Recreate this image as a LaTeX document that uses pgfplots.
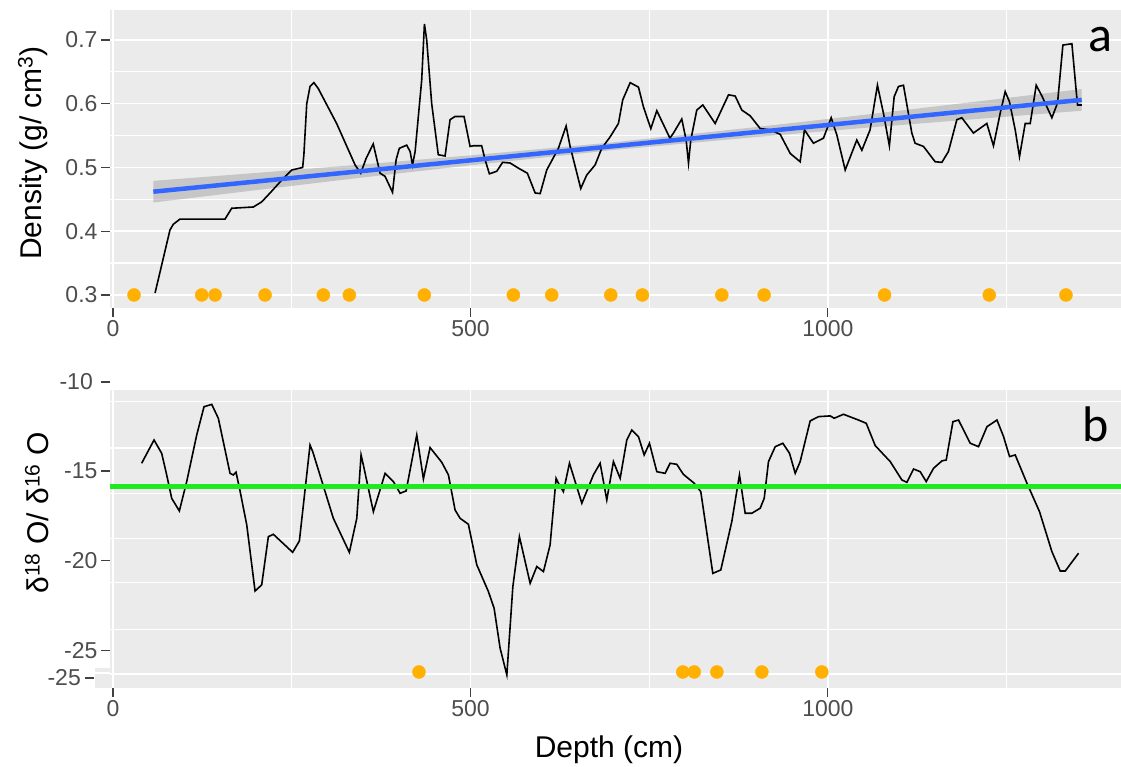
\documentclass[border=0pt]{standalone}
\usepackage{fontspec}
\setmainfont{Liberation Sans}
\newfontfamily\calfont{Carlito}
\usepackage{pgfplots}
\pgfplotsset{compat=1.18}
\definecolor{panel}{HTML}{EBEBEB}
\definecolor{tickgray}{HTML}{4D4D4D}
\definecolor{fitblue}{HTML}{3366FF}
\definecolor{dotorange}{HTML}{FFB000}
\definecolor{hgreen}{HTML}{1EEB1E}
\definecolor{bandgray}{HTML}{999999}
\pgfplotsset{gg/.style={
  scale only axis, width=1011pt, height=298pt, anchor=south west,
  axis background/.style={fill=panel},
  axis line style={draw=none},
  tick align=outside, major tick length=9pt, minor tick length=0pt,
  tick style={draw=black!75, line width=1.1pt},
  tick pos=left,
  xmin=-4.2, xmax=1410, xtick={0,500,1000}, xticklabels={0,500,1000},
  minor xtick={250,750,1250},
  grid=both,
  major grid style={white, line width=1.5pt},
  minor grid style={white, line width=1.3pt},
  ticklabel style={font=\fontsize{23}{23}\selectfont, text=tickgray},
}}
\begin{document}
\begin{tikzpicture}
\useasboundingbox (0,0) rectangle (1121pt,767pt);
% ---------- panel a ----------
\begin{axis}[gg, at={(110pt,459pt)},
  ymin=0.2796, ymax=0.747,
  ytick={0.3,0.4,0.5,0.6,0.7}, yticklabels={0.3,0.4,0.5,0.6,0.7},
  minor ytick={0.35,0.45,0.55,0.65}]
\addplot[fill=bandgray, fill opacity=0.45, draw=none] coordinates {
(56.4,0.479) (200,0.4914) (350,0.5048) (500,0.519) (700,0.5394) (900,0.5634) (1050,0.5824) (1200,0.6023) (1355,0.623)
(1355,0.589) (1200,0.5753) (1050,0.562) (900,0.5478) (700,0.5274) (500,0.5034) (350,0.4844) (200,0.4644) (56.4,0.445)
} -- cycle;
\addplot[black, line width=1.6pt] coordinates {
(58.8,0.303) (79.7,0.402) (84.4,0.411) (93.7,0.419) (156.7,0.419) (166,0.436) (196.3,0.438) (208,0.446)
(219.7,0.460) (238.3,0.483) (250,0.496) (265.3,0.500) (267,0.520) (271,0.600) (275.6,0.627) (281,0.633)
(287,0.624) (312.8,0.569) (338.6,0.504) (346.5,0.491) (354,0.514) (364,0.537) (373.6,0.491) (380.6,0.486)
(391,0.461) (396,0.512) (400.5,0.530) (410.8,0.535) (415.6,0.525) (419,0.504) (422.6,0.525) (431.8,0.637)
(435.6,0.725) (438.8,0.700) (445.8,0.600) (455,0.520) (464.5,0.518) (471.5,0.575) (478.5,0.580) (491,0.580)
(499.5,0.533) (504,0.534) (515.7,0.534) (520.5,0.512) (526.5,0.490) (536.7,0.494) (545,0.508) (555.5,0.507)
(567,0.499) (579.6,0.491) (590.5,0.460) (597.5,0.459) (606.7,0.496) (623,0.530) (633.8,0.565) (639.4,0.533)
(654.3,0.467) (662.6,0.488) (674.4,0.504) (683.6,0.530) (695.4,0.548) (707,0.569) (713,0.606) (723.4,0.633)
(735,0.626) (742,0.595) (752.3,0.561) (760.7,0.589) (779,0.546) (784,0.554) (795.6,0.576) (801.7,0.543)
(805,0.507) (808.2,0.543) (816.6,0.590) (825,0.598) (842.3,0.569) (861,0.614) (870.3,0.612) (879.6,0.590)
(891.3,0.581) (905.3,0.561) (919.3,0.559) (933.2,0.552) (947.3,0.522) (961.2,0.509) (967.2,0.559) (979.8,0.538)
(993.8,0.546) (1004.6,0.578) (1012.5,0.551) (1024.2,0.496) (1040.4,0.543) (1047.5,0.527) (1059,0.559) (1069.3,0.629)
(1077.7,0.585) (1086,0.534) (1092.7,0.611) (1098.7,0.627) (1105.7,0.629) (1117.4,0.554) (1122,0.538) (1133.7,0.533)
(1150,0.509) (1159.4,0.508) (1168.6,0.525) (1180.4,0.575) (1187.3,0.578) (1203.6,0.554) (1222.3,0.569) (1231.6,0.534)
(1241,0.585) (1248,0.619) (1254,0.603) (1262,0.559) (1268,0.517) (1276,0.569) (1283,0.569) (1291.4,0.629)
(1299.4,0.612) (1313.3,0.578) (1321.2,0.601) (1328.7,0.692) (1341.3,0.694) (1347.4,0.619) (1349.2,0.598) (1355.3,0.598)
};
\addplot[fitblue, line width=4.5pt] coordinates {(56.4,0.462) (1355,0.606)};
\addplot[color=dotorange, only marks, mark=*, mark size=6.5pt, mark options={draw=dotorange, fill=dotorange}] coordinates {
(29.4,0.3) (124.1,0.3) (142.8,0.3) (212.7,0.3) (294.2,0.3) (330.6,0.3) (435.5,0.3) (560,0.3)
(613.7,0.3) (696.3,0.3) (740.5,0.3) (851.6,0.3) (910.8,0.3) (1079.2,0.3) (1225.7,0.3) (1333,0.3)
};
\end{axis}
% ---------- panel b ----------
\begin{axis}[gg, at={(110pt,79pt)},
  ymin=-27.06, ymax=-10.5,
  ytick={-25,-20,-15}, yticklabels={-25,-20,-15},
  ymajorgrids=false,
  minor ytick={-11.15,-13.72,-16.25,-18.74,-21.18,-23.8,-26.28}]
\addplot[black, line width=1.6pt] coordinates {
(40.1,-14.57) (57.4,-13.28) (68.1,-14.02) (75.1,-15.22) (82.1,-16.52) (92.8,-17.22) (103.1,-15.59) (117.1,-13.0)
(127.3,-11.43) (138.1,-11.3) (147.3,-12.07) (163.7,-15.13) (168.3,-15.22) (172.1,-15.07) (177.7,-16.11) (187.1,-18.0)
(198.7,-21.67) (208,-21.33) (217.3,-18.65) (224.3,-18.52) (251.3,-19.52) (260.7,-18.89) (275.6,-13.56) (279.4,-13.93)
(308.2,-17.63) (330.6,-19.52) (341,-17.63) (347,-14.11) (350.2,-14.67) (364.2,-17.26) (380.6,-15.13) (392.2,-15.59)
(401.6,-16.24) (410,-16.11) (424.9,-13.0) (434.2,-15.44) (443.5,-13.7) (459.9,-14.52) (469.2,-15.22) (478.5,-17.17)
(485.5,-17.63) (497.1,-17.96) (508.9,-20.22) (525.1,-21.7) (533.1,-22.63) (541.5,-24.85) (550.9,-26.33) (559.3,-21.43)
(568.5,-18.65) (583.5,-21.24) (592.8,-20.31) (602.1,-20.59) (611.4,-19.11) (619.8,-15.41) (623,-15.68) (630,-16.15)
(638.5,-14.57) (655.8,-16.79) (672,-15.22) (681.4,-14.57) (690.7,-16.61) (700,-14.48) (709.4,-15.41) (718.7,-13.28)
(725.7,-12.72) (735,-13.09) (743,-14.11) (750.4,-13.46) (760.7,-15.04) (772.3,-15.13) (779.3,-14.57) (788.6,-14.63)
(797.9,-15.19) (812.9,-15.68) (822.2,-16.15) (839,-20.69) (850.2,-20.5) (865.6,-17.81) (876.3,-15.22) (884.3,-17.35)
(893.6,-17.35) (905.3,-17.07) (910.9,-16.52) (916.9,-14.48) (926.3,-13.65) (937,-13.46) (946.3,-14.02) (954.3,-15.13)
(961.2,-14.48) (975.2,-12.22) (986.9,-11.98) (1003.2,-11.94) (1008.8,-12.07) (1021.8,-11.85) (1042.8,-12.17) (1053.6,-12.35)
(1066.2,-13.59) (1087.2,-14.48) (1103.5,-15.5) (1110.5,-15.63) (1119.8,-14.89) (1129.1,-15.04) (1137.5,-15.59) (1147.8,-14.85)
(1159.5,-14.44) (1165.5,-14.39) (1174.9,-12.26) (1182.7,-12.17) (1199.1,-13.46) (1210.7,-13.65) (1222.5,-12.54) (1236.5,-12.17)
(1245.7,-13.09) (1254.1,-14.2) (1262,-14.11) (1278.4,-15.68) (1296,-17.26) (1313.3,-19.48) (1325,-20.56) (1332,-20.56)
(1350.6,-19.57)
};
\addplot[hgreen, line width=5pt] coordinates {(-4.2,-15.87) (1410,-15.87)};
\addplot[color=dotorange, only marks, mark=*, mark size=6.5pt, mark options={draw=dotorange, fill=dotorange}] coordinates {
(428,-26.17) (797,-26.17) (813,-26.17) (844.7,-26.17) (907.6,-26.17) (991.5,-26.17)
};
\end{axis}
% extra pieces of the pasted panel b
\fill[panel] (95pt,79pt) rectangle (110pt,99pt);
\draw[white, line width=1.3pt] (95pt,94pt) -- (110pt,94pt);
\draw[black!75, line width=1.1pt] (85pt,89pt) -- (94pt,89pt);
\node[anchor=east, inner sep=0pt, font=\fontsize{23}{23}\selectfont, text=tickgray] at (81pt,89pt) {-25};
\draw[black!75, line width=1.1pt] (101pt,385pt) -- (110pt,385pt);
\node[anchor=east, inner sep=0pt, font=\fontsize{23}{23}\selectfont, text=tickgray] at (93pt,385pt) {-10};
% titles
\node[rotate=90, font=\fontsize{30}{30}\selectfont] at (33pt,614pt) {Density (g/ cm\textsuperscript{3})};
\node[rotate=90, font=\fontsize{30}{30}\selectfont] at (37pt,254pt) {δ\textsuperscript{18} O/ δ\textsuperscript{16} O};
\node[font=\fontsize{30}{30}\selectfont] at (609pt,17pt) {Depth (cm)};
\node[font=\calfont\fontsize{50}{50}\selectfont] at (1100pt,727pt) {a};
\node[font=\calfont\fontsize{50}{50}\selectfont] at (1096pt,343pt) {b};
\end{tikzpicture}
\end{document}
